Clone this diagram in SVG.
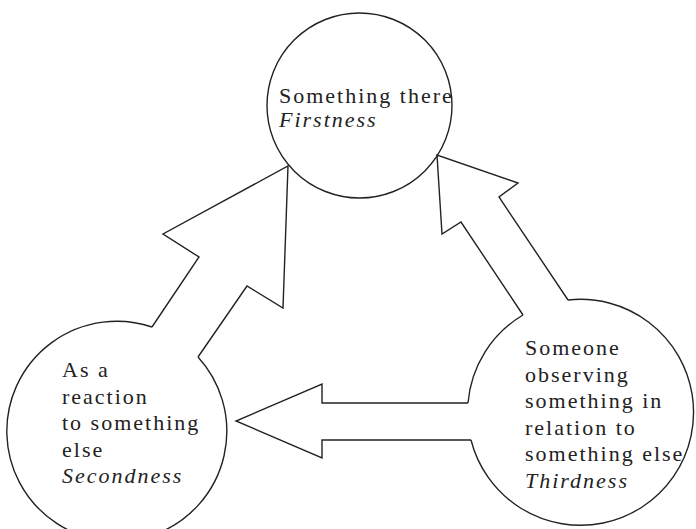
<svg xmlns="http://www.w3.org/2000/svg" width="696" height="529" viewBox="0 0 696 529">
<style>
.o{fill:none;stroke:#222;stroke-width:1.4;stroke-linejoin:miter}
.t{font-family:"Liberation Serif","Times New Roman",serif;font-size:22px;letter-spacing:2px;fill:#222}
.i{font-style:italic}
</style>
<rect width="696" height="529" fill="#fff"/>
<g id="firstness">
<circle class="o" cx="359.5" cy="105.5" r="92.5"/>
<text class="t" x="279" y="103">Something there</text>
<text class="t i" x="279" y="127">Firstness</text>
</g>
<g id="secondness">
<path class="o" d="M198 357 A110 110 0 1 1 152 327"/>
<text class="t" x="62" y="377">As a</text>
<text class="t" x="62" y="403.5">reaction</text>
<text class="t" x="62" y="430">to something</text>
<text class="t" x="62" y="456.5">else</text>
<text class="t i" x="62" y="483">Secondness</text>
</g>
<g id="thirdness">
<path class="o" d="M568 300 A113 113 0 1 1 471 440 M468 403 A113 113 0 0 1 523 315"/>
<text class="t" x="525" y="355">Someone</text>
<text class="t" x="525" y="381.5">observing</text>
<text class="t" x="525" y="408">something in</text>
<text class="t" x="525" y="434.5">relation to</text>
<text class="t" x="525" y="461">something else</text>
<text class="t i" x="525" y="487.5">Thirdness</text>
</g>
<g id="connectors">
<polyline class="o" points="152,327 199,257 163,234 288,166 283,308 247,286 198,357"/>
<polyline class="o" points="523,315 461,222 442,234 437,155 518,183 499,197 568,300"/>
<polyline class="o" points="468,403 322,403 322,384 236,421 322,458 322,440 471,440"/>
</g>
</svg>
